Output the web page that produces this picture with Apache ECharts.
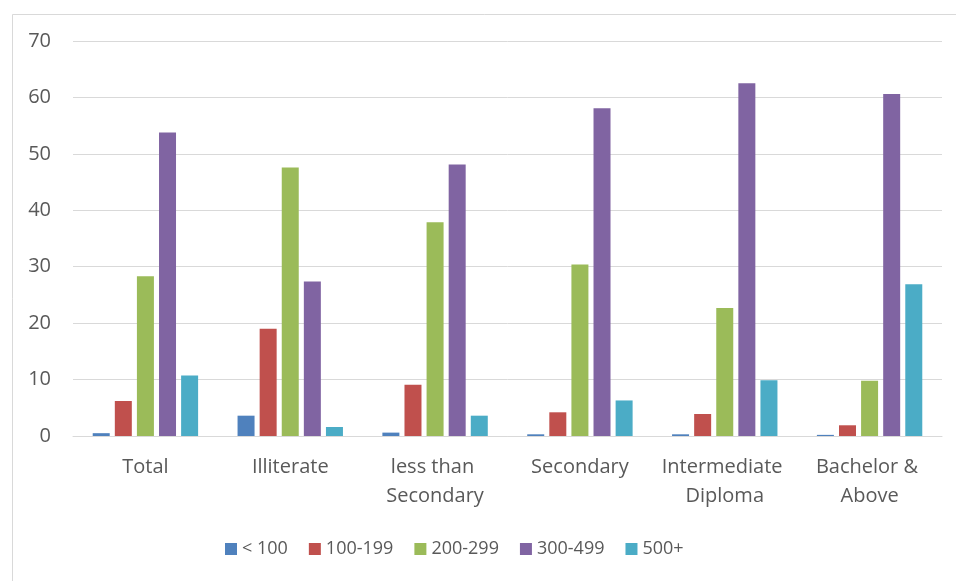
<!DOCTYPE html>
<html>
<head>
<meta charset="utf-8">
<title>Distribution by education level</title>
<script src="https://cdn.jsdelivr.net/npm/echarts@6/dist/echarts.min.js"></script>
<style>
  html, body { margin: 0; padding: 0; background: #ffffff; }
  #chart { width: 956px; height: 581px; }
</style>
</head>
<body>
<div id="chart"></div>
<script>
// Education levels along the x axis
const categories = ['Total', 'Illiterate', 'less than Secondary', 'Secondary', 'Intermediate Diploma', 'Bachelor & Above'];

// Band names shown in the legend
const bandNames = ['< 100', '100-199', '200-299', '300-499', '500+'];

// Percentages per band, one value per education level
const under100 = [0.5, 3.6, 0.6, 0.3, 0.3, 0.2];
const band100to199 = [6.2, 19.0, 9.1, 4.2, 3.9, 1.9];
const band200to299 = [28.3, 47.6, 37.9, 30.4, 22.7, 9.8];
const band300to499 = [53.8, 27.4, 48.1, 58.1, 62.5, 60.6];
const band500plus = [10.7, 1.6, 3.6, 6.3, 9.9, 26.9];

// Y axis tick values
const yTicks = [0, 10, 20, 30, 40, 50, 60, 70];

const bandValues = [under100, band100to199, band200to299, band300to499, band500plus];
const bandColors = ['#4F81BD', '#C0504D', '#9BBB59', '#8064A2', '#4BACC6'];

const textColor = '#595959';
const fontFamily = '"Open Sans", "Noto Sans", sans-serif';

const chart = echarts.init(document.getElementById('chart'), null, { renderer: 'canvas' });

chart.setOption({
  animation: false,
  backgroundColor: '#ffffff',
  color: bandColors,
  graphic: [{
    type: 'rect',
    left: 10,
    top: 12,
    shape: { width: 1000, height: 700 },
    style: { fill: 'none', stroke: '#d9d9d9', lineWidth: 1 },
    silent: true
  }],
  grid: {
    left: 73,
    right: 14,
    top: 41,
    bottom: 145,
    containLabel: false
  },
  legend: {
    left: 225,
    top: 540,
    padding: 0,
    itemWidth: 12,
    itemHeight: 12,
    itemGap: 21,
    icon: 'rect',
    textStyle: { color: textColor, fontSize: 18, fontFamily: fontFamily },
    data: bandNames
  },
  xAxis: {
    type: 'category',
    data: categories,
    axisTick: { show: false },
    axisLine: { show: true, lineStyle: { color: '#d9d9d9', width: 1 } },
    axisLabel: {
      color: textColor,
      fontSize: 20,
      fontFamily: fontFamily,
      lineHeight: 29,
      margin: 17,
      width: 140,
      overflow: 'break',
      interval: 0,
      align: 'center'
    }
  },
  yAxis: {
    type: 'value',
    min: yTicks[0],
    max: yTicks[yTicks.length - 1],
    interval: 10,
    axisLine: { show: false },
    axisTick: { show: false },
    splitLine: { lineStyle: { color: '#d9d9d9', width: 1 } },
    axisLabel: {
      color: textColor,
      fontSize: 20,
      fontFamily: fontFamily,
      margin: 22
    }
  },
  series: bandNames.map((name, i) => ({
    name: name,
    type: 'bar',
    data: bandValues[i],
    barWidth: 17,
    barGap: '30%',
    itemStyle: { color: bandColors[i] }
  }))
});
</script>
</body>
</html>
